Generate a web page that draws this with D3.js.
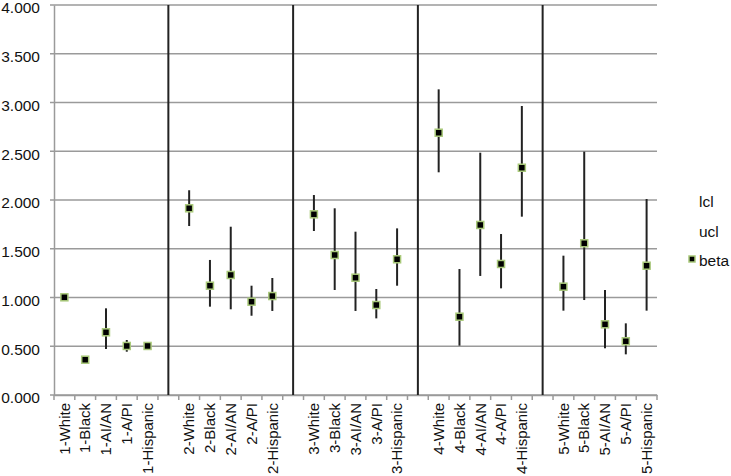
<!DOCTYPE html>
<html><head><meta charset="utf-8">
<script src="https://cdn.jsdelivr.net/npm/d3@7"></script>
<style>body{margin:0;background:#fff}svg{display:block}text{font-family:"Liberation Sans",Arial,sans-serif}</style>
</head><body><svg id="c" width="731" height="476"></svg>
<script>
const categories = ["1-White","1-Black","1-AI/AN","1-A/PI","1-Hispanic","",
"2-White","2-Black","2-AI/AN","2-A/PI","2-Hispanic"," ",
"3-White","3-Black","3-AI/AN","3-A/PI","3-Hispanic","  ",
"4-White","4-Black","4-AI/AN","4-A/PI","4-Hispanic","   ",
"5-White","5-Black","5-AI/AN","5-A/PI","5-Hispanic"];
const beta = [1.002,0.362,0.643,0.503,0.503,null,
1.915,1.121,1.231,0.957,1.015,null,
1.853,1.436,1.203,0.923,1.392,null,
2.690,0.803,1.744,1.344,2.331,null,
1.111,1.556,0.725,0.551,1.326];
const lcl = [0.99,0.345,0.472,0.444,0.47,0,
1.733,0.906,0.879,0.813,0.862,0,
1.682,1.077,0.862,0.786,1.121,0,
2.284,0.506,1.221,1.094,1.829,0,
0.865,0.974,0.479,0.417,0.865];
const ucl = [1.01,0.39,0.889,0.564,0.54,4,
2.10,1.385,1.726,1.121,1.2,4,
2.051,1.915,1.675,1.087,1.709,4,
3.135,1.292,2.485,1.651,2.964,4,
1.429,2.496,1.077,0.735,2.01];
const yTicks = [0,0.5,1,1.5,2,2.5,3,3.5,4];
const legendLabels = ["lcl","ucl","beta"];

const svg = d3.select("#c");
const L=54,R=657,T=5,B=395;
const x = d3.scaleBand().domain(categories).range([L,R]);
const y = d3.scaleLinear().domain([0,4]).range([B,T]);

// gridlines
svg.append("g").selectAll("line").data(yTicks).join("line")
 .attr("x1",L-4).attr("x2",R).attr("y1",d=>y(d)).attr("y2",d=>y(d))
 .attr("stroke","#9a9a9a").attr("stroke-width",1.5);
// y axis
const ya = svg.append("g").attr("transform",`translate(${L},0)`)
 .call(d3.axisLeft(y).tickValues(yTicks).tickFormat(d3.format(".3f")).tickSize(0).tickPadding(14));
ya.select(".domain").attr("stroke","#9a9a9a").attr("stroke-width",1.5);
ya.selectAll("text").attr("font-size",15.5).attr("fill","#111").attr("dy","0.5em");
// x axis
const xa = svg.append("g").attr("transform",`translate(0,${B})`)
 .call(d3.axisBottom(x).tickSize(0).tickPadding(0));
xa.select(".domain").attr("stroke","#9a9a9a").attr("stroke-width",1.5);
xa.selectAll("text").attr("font-size",15).attr("fill","#111")
 .attr("text-anchor","end").attr("dy","0.35em")
 .attr("transform","translate(0,8) rotate(-90)");
// x tick marks at band boundaries
const bounds = categories.map(c=>x(c)).concat([R]);
svg.append("g").selectAll("line").data(bounds).join("line")
 .attr("x1",d=>d).attr("x2",d=>d).attr("y1",B).attr("y2",B+5)
 .attr("stroke","#9a9a9a").attr("stroke-width",1.5);

const pts = categories.map((c,i)=>({c,b:beta[i],l:lcl[i],u:ucl[i]}));
// error bars and separators
svg.append("g").selectAll("line").data(pts).join("line")
 .attr("x1",d=>x(d.c)+x.bandwidth()/2).attr("x2",d=>x(d.c)+x.bandwidth()/2)
 .attr("y1",d=>y(d.l)).attr("y2",d=>y(d.u))
 .attr("stroke","#222").attr("stroke-width",2);
// markers
svg.append("g").selectAll("rect").data(pts.filter(d=>d.b!=null)).join("rect")
 .attr("x",d=>x(d.c)+x.bandwidth()/2-3.5).attr("y",d=>y(d.b)-3.5)
 .attr("width",7).attr("height",7)
 .attr("fill","#000").attr("stroke","#a9c97a").attr("stroke-width",1.5);

// legend
const lg = svg.append("g");
const ly = [202,232,261];
lg.selectAll("text").data(legendLabels).join("text")
 .attr("x",699).attr("y",(d,i)=>ly[i]).attr("dy","0.35em")
 .attr("font-size",15.5).attr("fill","#111").text(d=>d);
lg.append("rect").attr("x",689).attr("y",ly[2]-5).attr("width",6).attr("height",6)
 .attr("fill","#000").attr("stroke","#a9c97a").attr("stroke-width",1.5);
</script></body></html>
